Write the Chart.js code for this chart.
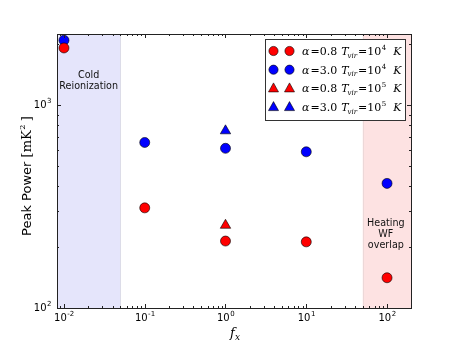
<!DOCTYPE html>
<html>
<head>
<meta charset="utf-8">
<script src="https://cdn.jsdelivr.net/npm/chart.js@4/dist/chart.umd.min.js"></script>
<style>
  html, body { margin: 0; padding: 0; background: #fff; }
  #wrap { width: 457px; height: 343px; }
</style>
</head>
<body>
<div id="wrap"><canvas id="peak-chart" width="457" height="343"></canvas></div>
<script>
// f_x values
var fx = [0.01, 0.1, 1, 10, 100];
// alpha=0.8, Tvir=1e4 (red circles)
var red_circles = [1920, 312, 214, 212, 141];
// alpha=3.0, Tvir=1e4 (blue circles)
var blue_circles = [2095, 656, 614, 590, 412];
// Tvir=1e5 runs, only at f_x = 1
var fx_tri = [1];
var red_triangles = [256];
var blue_triangles = [749];

var x_major = [0.01, 0.1, 1, 10, 100];
var x_major_labels = ["-2", "-1", "0", "1", "2"];
var y_major = [100, 1000];
var y_major_labels = ["2", "3"];

var x_min = 0.0082, x_max = 198;
var y_min = 100, y_max = 2250;

var cold_band = [x_min, 0.05];
var heat_band = [50, x_max];

var legend_rows = [
    {color: "#ff0000", shape: "circle", alpha: "0.8", exp: "4"},
    {color: "#0000ff", shape: "circle", alpha: "3.0", exp: "4"},
    {color: "#ff0000", shape: "triangle", alpha: "0.8", exp: "5"},
    {color: "#0000ff", shape: "triangle", alpha: "3.0", exp: "5"},
];

function pts(xs, ys) {
    let out = [];
    for (let i = 0; i < xs.length; i++) {
        out.push({x: xs[i], y: ys[i]});
    }
    return out;
}

function marker(ctx, shape, x, y, color) {
    ctx.save();
    ctx.fillStyle = color;
    ctx.strokeStyle = "#000";
    ctx.lineWidth = 0.6;
    ctx.beginPath();
    if (shape == "circle") {
        ctx.arc(x, y, 4.6, 0, Math.PI * 2);
    } else {
        ctx.moveTo(x, y - 5.5);
        ctx.lineTo(x + 5, y + 3.5);
        ctx.lineTo(x - 5, y + 3.5);
        ctx.closePath();
    }
    ctx.fill();
    ctx.stroke();
    ctx.restore();
}

var backdrop = {
    id: "backdrop",
    beforeDatasetsDraw: function (chart) {
        let ctx = chart.ctx;
        let a = chart.chartArea;
        let xs = chart.scales.x;
        ctx.save();
        let c0 = xs.getPixelForValue(cold_band[0]), c1 = xs.getPixelForValue(cold_band[1]);
        ctx.fillStyle = "#e5e5fb";
        ctx.fillRect(c0, a.top, c1 - c0, a.bottom - a.top);
        let h0 = xs.getPixelForValue(heat_band[0]), h1 = xs.getPixelForValue(heat_band[1]);
        ctx.fillStyle = "#fde2e2";
        ctx.fillRect(h0, a.top, h1 - h0, a.bottom - a.top);
        ctx.strokeStyle = "#dcdce8";
        ctx.lineWidth = 1;
        ctx.beginPath();
        ctx.moveTo(Math.round(c1) + 0.5, a.top); ctx.lineTo(Math.round(c1) + 0.5, a.bottom);
        ctx.stroke();
        ctx.strokeStyle = "#ecd8d8";
        ctx.beginPath();
        ctx.moveTo(Math.round(h0) + 0.5, a.top); ctx.lineTo(Math.round(h0) + 0.5, a.bottom);
        ctx.stroke();

        ctx.fillStyle = "#111";
        ctx.font = "9.6px 'DejaVu Sans'";
        ctx.textAlign = "center";
        ctx.textBaseline = "middle";
        let cx = (c0 + c1) / 2;
        ctx.fillText("Cold", cx, 75);
        ctx.fillText("Reionization", cx, 86);
        let hx = (h0 + h1) / 2 - 1;
        ctx.fillText("Heating", hx, 223);
        ctx.fillText("WF", hx, 234);
        ctx.fillText("overlap", hx, 245);
        ctx.restore();
    }
};

function pow_label(ctx, x, y, exp, align) {
    ctx.save();
    ctx.fillStyle = "#000";
    ctx.textBaseline = "middle";
    ctx.font = "10px 'DejaVu Sans'";
    let wb = ctx.measureText("10").width;
    ctx.font = "7px 'DejaVu Sans'";
    let we = ctx.measureText(exp).width;
    let left = align == "right" ? x - wb - we : x - (wb + we) / 2;
    ctx.textAlign = "left";
    ctx.font = "10px 'DejaVu Sans'";
    ctx.fillText("10", left, y);
    ctx.font = "7px 'DejaVu Sans'";
    ctx.fillText(exp, left + wb + 0.5, y - 4);
    ctx.restore();
}

var frame = {
    id: "frame",
    afterDraw: function (chart) {
        let ctx = chart.ctx;
        let a = chart.chartArea;
        let xs = chart.scales.x, ys = chart.scales.y;
        ctx.save();
        ctx.strokeStyle = "#222";
        ctx.lineWidth = 1;
        ctx.strokeRect(Math.round(a.left) + 0.5, Math.round(a.top) + 0.5,
            Math.round(a.right - a.left), Math.round(a.bottom - a.top));

        ctx.beginPath();
        for (let k = -3; k <= 2; k++) {
            for (let m = 1; m <= 9; m++) {
                let v = m * Math.pow(10, k);
                if (v < x_min || v > x_max) continue;
                let px = Math.round(xs.getPixelForValue(v)) + 0.5;
                let len = m == 1 ? 4 : 2;
                ctx.moveTo(px, a.bottom); ctx.lineTo(px, a.bottom - len);
                ctx.moveTo(px, a.top); ctx.lineTo(px, a.top + len);
            }
        }
        for (let k = 2; k <= 3; k++) {
            for (let m = 1; m <= 9; m++) {
                let v = m * Math.pow(10, k);
                if (v < y_min || v > y_max) continue;
                let py = Math.round(ys.getPixelForValue(v)) + 0.5;
                let len = m == 1 ? 4 : 2;
                ctx.moveTo(a.left, py); ctx.lineTo(a.left + len, py);
                ctx.moveTo(a.right, py); ctx.lineTo(a.right - len, py);
            }
        }
        ctx.stroke();

        for (let i = 0; i < x_major.length; i++) {
            pow_label(ctx, xs.getPixelForValue(x_major[i]), a.bottom + 10, x_major_labels[i], "center");
        }
        for (let i = 0; i < y_major.length; i++) {
            pow_label(ctx, a.left - 6, ys.getPixelForValue(y_major[i]), y_major_labels[i], "right");
        }

        // x title: f_x
        ctx.fillStyle = "#000";
        ctx.textBaseline = "alphabetic";
        ctx.textAlign = "left";
        ctx.font = "italic 13px 'DejaVu Serif'";
        let tx = (a.left + a.right) / 2 - 4;
        ctx.fillText("f", tx, 337);
        ctx.font = "italic 9px 'DejaVu Serif'";
        ctx.fillText("x", tx + 5, 340);

        // y title
        ctx.save();
        ctx.translate(31, (a.top + a.bottom) / 2 + 5);
        ctx.rotate(-Math.PI / 2);
        ctx.font = "13px 'DejaVu Sans'";
        let p1 = "Peak Power ";
        let w1 = ctx.measureText(p1).width;
        ctx.font = "13px 'DejaVu Serif'";
        let w2 = ctx.measureText("[mK").width;
        let w3 = ctx.measureText(" ]").width;
        let total = w1 + w2 + 5 + w3;
        let sx = -total / 2;
        ctx.font = "13px 'DejaVu Sans'";
        ctx.fillText(p1, sx, 0);
        ctx.font = "13px 'DejaVu Serif'";
        ctx.fillText("[mK", sx + w1, 0);
        ctx.font = "8px 'DejaVu Serif'";
        ctx.fillText("2", sx + w1 + w2 + 0.5, -6);
        ctx.font = "13px 'DejaVu Serif'";
        ctx.fillText(" ]", sx + w1 + w2 + 5, 0);
        ctx.restore();

        // legend
        let lx0 = 265.5, ly0 = 39.5, lx1 = 405.5, ly1 = 120.5;
        ctx.fillStyle = "#fff";
        ctx.fillRect(lx0, ly0, lx1 - lx0, ly1 - ly0);
        ctx.strokeStyle = "#333";
        ctx.lineWidth = 1;
        ctx.strokeRect(lx0, ly0, lx1 - lx0, ly1 - ly0);
        for (let i = 0; i < legend_rows.length; i++) {
            let r = legend_rows[i];
            let ry = 51 + i * 18.7;
            marker(ctx, r.shape, 273.5, ry, r.color);
            marker(ctx, r.shape, 289.5, ry, r.color);
            let x = 302;
            let base = ry + 4;
            ctx.fillStyle = "#000";
            ctx.textBaseline = "alphabetic";
            ctx.font = "italic 11px 'DejaVu Serif'";
            ctx.fillText("\u03b1", x, base); x += ctx.measureText("\u03b1").width + 1;
            ctx.font = "11px 'DejaVu Serif'";
            ctx.fillText("=" + r.alpha, x, base); x += ctx.measureText("=" + r.alpha).width + 4;
            ctx.font = "italic 11px 'DejaVu Serif'";
            ctx.fillText("T", x, base); x += ctx.measureText("T").width - 1;
            ctx.font = "italic 7px 'DejaVu Serif'";
            ctx.fillText("vir", x, base + 2.5); x += ctx.measureText("vir").width + 1;
            ctx.font = "11px 'DejaVu Serif'";
            ctx.fillText("=10", x, base); x += ctx.measureText("=10").width + 0.5;
            ctx.font = "7px 'DejaVu Serif'";
            ctx.fillText(r.exp, x, base - 5); x += ctx.measureText(r.exp).width + 7;
            ctx.font = "italic 11px 'DejaVu Serif'";
            ctx.fillText("K", x, base);
        }
        ctx.restore();
    }
};

var ctx = document.getElementById("peak-chart").getContext("2d");
var chart = new Chart(ctx, {
    type: "scatter",
    data: {
        datasets: [
            {label: "a0.8 T1e4", data: pts(fx, red_circles), pointStyle: "circle", pointRadius: 5,
                backgroundColor: "#ff0000", borderColor: "#000", borderWidth: 0.6},
            {label: "a3.0 T1e4", data: pts(fx, blue_circles), pointStyle: "circle", pointRadius: 5,
                backgroundColor: "#0000ff", borderColor: "#000", borderWidth: 0.6},
            {label: "a0.8 T1e5", data: pts(fx_tri, red_triangles), pointStyle: "triangle", pointRadius: 6,
                backgroundColor: "#ff0000", borderColor: "#000", borderWidth: 0.6},
            {label: "a3.0 T1e5", data: pts(fx_tri, blue_triangles), pointStyle: "triangle", pointRadius: 6,
                backgroundColor: "#0000ff", borderColor: "#000", borderWidth: 0.6},
        ]
    },
    options: {
        responsive: false,
        animation: false,
        layout: {padding: {left: 57, right: 46, top: 34, bottom: 35}},
        scales: {
            x: {type: "logarithmic", min: x_min, max: x_max, display: false},
            y: {type: "logarithmic", min: y_min, max: y_max, display: false},
        },
        plugins: {
            legend: {display: false},
            tooltip: {enabled: false},
        }
    },
    plugins: [backdrop, frame]
});
</script>
</body>
</html>
